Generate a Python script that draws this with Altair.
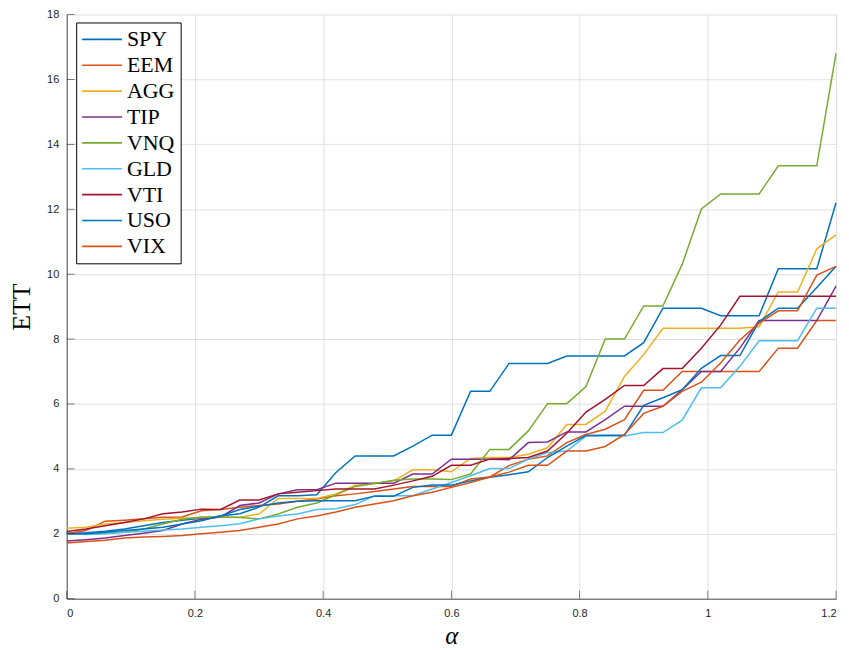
import altair as alt
import pandas as pd

# ---- data ----
alpha = [round(i * 0.03, 2) for i in range(41)]

names = ["SPY", "EEM", "AGG", "TIP", "VNQ", "GLD", "VTI", "USO", "VIX"]
colors = ["#0072BD", "#D95319", "#EDB120", "#7E2F8E", "#77AC30",
          "#4DBEEE", "#A2142F", "#0072BD", "#D95319"]

SPY = [2.02, 2.03, 2.08, 2.15, 2.25, 2.35, 2.42, 2.48, 2.55, 2.62, 2.82, 3.17, 3.17, 3.2,
       3.89, 4.4, 4.4, 4.4, 4.7, 5.04, 5.04, 6.39, 6.39, 7.25, 7.25, 7.25, 7.48, 7.48,
       7.48, 7.48, 7.89, 8.95, 8.95, 8.95, 8.72, 8.72, 8.72, 10.17, 10.17, 10.17, 12.2]
EEM = [2.0, 2.1, 2.39, 2.42, 2.46, 2.51, 2.52, 2.71, 2.75, 2.82, 2.87, 2.92, 3.0, 3.07,
       3.17, 3.23, 3.3, 3.38, 3.46, 3.46, 3.46, 3.69, 3.75, 4.1, 4.3, 4.4, 4.81, 5.06,
       5.22, 5.52, 6.42, 6.42, 7.0, 7.0, 7.0, 7.0, 7.0, 7.72, 7.72, 8.57, 8.57]
AGG = [2.17, 2.2, 2.3, 2.35, 2.4, 2.45, 2.48, 2.5, 2.51, 2.51, 2.61, 3.09, 3.09, 3.09,
       3.23, 3.5, 3.55, 3.63, 3.97, 3.97, 3.91, 4.32, 4.35, 4.35, 4.45, 4.65, 5.37, 5.37,
       5.78, 6.85, 7.52, 8.33, 8.33, 8.33, 8.33, 8.33, 8.38, 9.45, 9.45, 10.78, 11.21]
TIP = [1.78, 1.82, 1.87, 1.95, 2.02, 2.1, 2.3, 2.45, 2.52, 2.87, 2.95, 3.23, 3.36, 3.36,
       3.56, 3.56, 3.56, 3.56, 3.84, 3.84, 4.3, 4.3, 4.3, 4.28, 4.81, 4.83, 5.14, 5.14,
       5.52, 5.93, 5.93, 5.93, 6.44, 7.0, 7.0, 7.72, 8.57, 8.57, 8.57, 8.57, 9.63]
VNQ = [2.0, 2.0, 2.02, 2.05, 2.15, 2.3, 2.45, 2.52, 2.52, 2.5, 2.46, 2.61, 2.82, 2.95,
       3.2, 3.46, 3.55, 3.65, 3.69, 3.69, 3.67, 3.84, 4.6, 4.6, 5.17, 6.01, 6.01, 6.54,
       8.0, 8.0, 9.02, 9.02, 10.3, 12.01, 12.47, 12.47, 12.47, 13.34, 13.34, 13.34, 16.8]
GLD = [2.0, 1.98, 2.0, 2.05, 2.08, 2.12, 2.15, 2.2, 2.25, 2.31, 2.46, 2.55, 2.61, 2.75,
       2.77, 2.9, 3.17, 3.17, 3.17, 3.38, 3.58, 3.79, 4.01, 4.01, 4.3, 4.5, 4.55, 5.01,
       5.01, 5.01, 5.12, 5.12, 5.5, 6.5, 6.5, 7.16, 7.95, 7.95, 7.95, 8.95, 8.95]
VTI = [2.07, 2.15, 2.25, 2.35, 2.46, 2.62, 2.67, 2.76, 2.75, 3.04, 3.04, 3.23, 3.28, 3.33,
       3.38, 3.38, 3.38, 3.5, 3.63, 3.77, 4.11, 4.11, 4.3, 4.32, 4.35, 4.55, 5.1, 5.75,
       6.14, 6.57, 6.57, 7.09, 7.09, 7.72, 8.43, 9.32, 9.32, 9.32, 9.32, 9.32, 9.32]
USO = [2.0, 2.0, 2.05, 2.1, 2.15, 2.2, 2.3, 2.4, 2.55, 2.75, 2.85, 2.95, 3.0, 3.02,
       3.02, 3.02, 3.16, 3.16, 3.43, 3.5, 3.5, 3.63, 3.74, 3.82, 3.91, 4.35, 4.7, 5.03,
       5.04, 5.04, 5.96, 6.19, 6.44, 7.1, 7.49, 7.49, 8.54, 8.95, 8.95, 9.59, 10.24]
VIX = [1.72, 1.76, 1.8, 1.87, 1.9, 1.92, 1.95, 2.0, 2.05, 2.1, 2.2, 2.3, 2.46, 2.55,
       2.67, 2.82, 2.92, 3.02, 3.17, 3.28, 3.43, 3.58, 3.75, 3.9, 4.11, 4.11, 4.55, 4.55,
       4.69, 5.06, 5.71, 5.93, 6.39, 6.67, 7.26, 7.97, 8.49, 8.87, 8.87, 9.97, 10.24]

x_ticks = [0, 0.2, 0.4, 0.6, 0.8, 1.0, 1.2]
y_ticks = [0, 2, 4, 6, 8, 10, 12, 14, 16, 18]

series = {"SPY": SPY, "EEM": EEM, "AGG": AGG, "TIP": TIP, "VNQ": VNQ,
          "GLD": GLD, "VTI": VTI, "USO": USO, "VIX": VIX}

rows = []
for k, n in enumerate(names):
    for a, v in zip(alpha, series[n]):
        rows.append({"alpha": a, "ETT": v, "asset": n, "k": k})
df = pd.DataFrame(rows)

W, H = 773, 587
x_scale = alt.Scale(domain=[0, 1.2], nice=False, zero=False)
y_scale = alt.Scale(domain=[0, 18], nice=False, zero=False)

x_axis = alt.Axis(values=x_ticks, format="~g", title="α", grid=True,
                  labelPadding=9, titlePadding=5, titleFontStyle="italic",
                  titleFontSize=25)
y_axis = alt.Axis(values=y_ticks, format="d", title="ETT", grid=True,
                  labelPadding=8, titlePadding=12, titleFontSize=26)

lines = alt.Chart(df).mark_line(strokeWidth=1.5).encode(
    x=alt.X("alpha:Q", scale=x_scale, axis=x_axis),
    y=alt.Y("ETT:Q", scale=y_scale, axis=y_axis),
    color=alt.Color("asset:N", sort=names,
                    scale=alt.Scale(domain=names, range=colors),
                    legend=alt.Legend(title=None, orient="none", legendX=9.5, legendY=8,
                                      symbolType="M-2,0H2", symbolSize=400,
                                      symbolStrokeWidth=1.6, symbolOffset=9,
                                      labelOffset=14, labelFont="Liberation Serif",
                                      labelFontSize=22, labelColor="black",
                                      strokeColor="black", fillColor="white",
                                      padding=6, rowPadding=4, cornerRadius=0)),
    detail="asset:N",
)

yt = alt.Chart(pd.DataFrame({"ETT": y_ticks})).mark_tick(
    orient="horizontal", size=8, thickness=0.8, color="#262626").encode(
    y=alt.Y("ETT:Q", scale=y_scale, axis=y_axis), x=alt.value(4))
xt = alt.Chart(pd.DataFrame({"alpha": x_ticks})).mark_tick(
    orient="vertical", size=8, thickness=0.8, color="#262626").encode(
    x=alt.X("alpha:Q", scale=x_scale, axis=x_axis), y=alt.value(H - 4))

chart = alt.layer(lines, yt, xt).properties(
    width=W, height=H,
    padding={"left": 59, "top": 5, "right": 5, "bottom": 50},
    autosize=alt.AutoSizeParams(type="none"),
).configure_view(stroke=None).configure_axis(
    gridColor="#e0e0e0", gridWidth=1,
    domainColor="#262626", domainWidth=0.8,
    ticks=False,
    labelFont="Liberation Sans", labelFontSize=11, labelColor="#262626",
    titleFont="Liberation Serif", titleFontWeight="normal", titleColor="black",
)

chart.save("out.html", embed_options={"renderer": "svg", "actions": False})
